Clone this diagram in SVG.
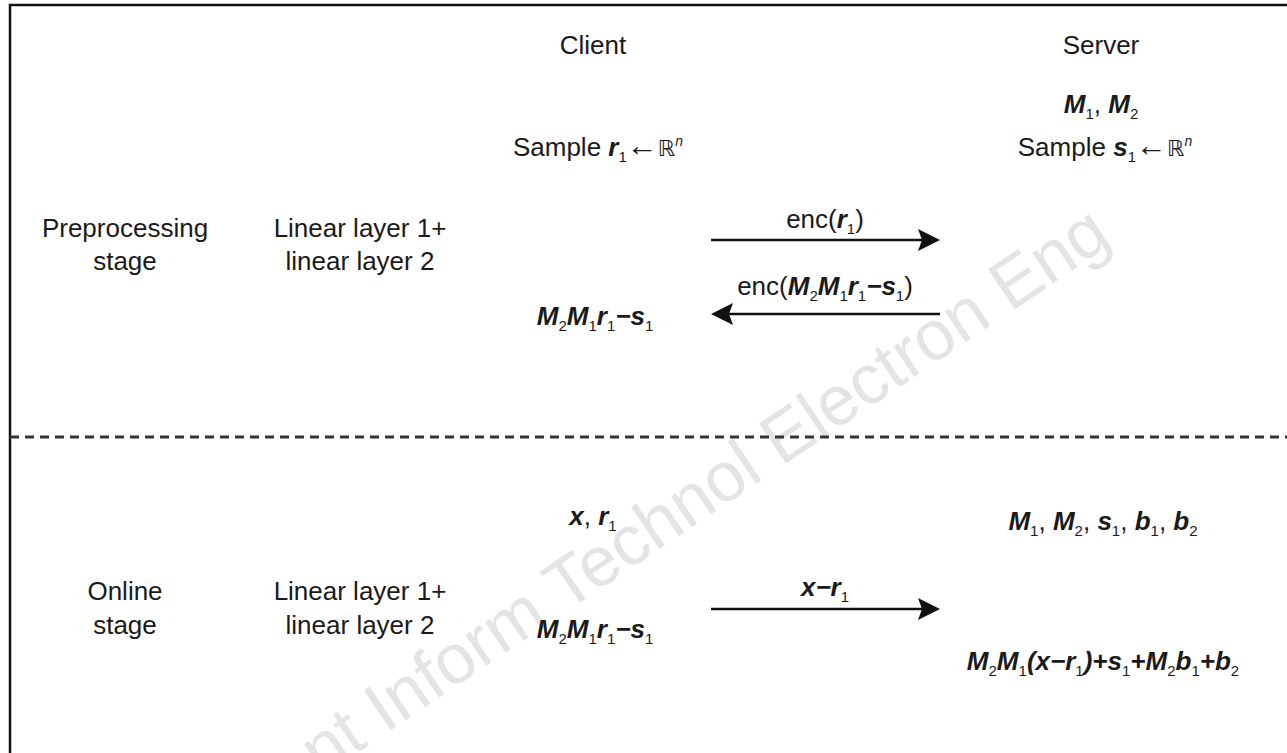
<svg xmlns="http://www.w3.org/2000/svg" width="1287" height="753" viewBox="0 0 1287 753">
  <style>
    text { font-family: "Liberation Sans", Arial, sans-serif; font-size: 26px; fill: #1a1a1a; }
    .c { text-anchor: middle; }
    .v { font-weight: bold; font-style: italic; }
    .s { font-size: 15px; font-weight: normal; font-style: normal; }
    .sup { font-size: 14px; font-style: italic; }
    .la { font-size: 31px; }
    .bb { font-family: "DejaVu Sans", sans-serif; font-size: 22px; }
    .wm { font-size: 70px; fill: #e4e4e4; }
    .conn { stroke: #111; stroke-width: 2.5; fill: none; }
  </style>
  <defs>
    <marker id="arrow" viewBox="0 0 22 22" refX="12" refY="11" markerWidth="22" markerHeight="22" markerUnits="userSpaceOnUse" orient="auto">
      <path d="M0,0 L22,11 L0,22 L4,11 Z" fill="#111"/>
    </marker>
  </defs>

  <rect width="1287" height="753" fill="#fff"/>

  <!-- background watermark -->
  <text class="wm" transform="translate(234,836) rotate(-34)">Front Inform Technol Electron Eng</text>

  <!-- frame and stage divider -->
  <rect x="10" y="5" width="1300" height="780" fill="none" stroke="#111" stroke-width="2.5"/>
  <line x1="10" y1="437" x2="1287" y2="437" stroke="#333" stroke-width="3" stroke-dasharray="9 6"/>

  <!-- column headers -->
  <g id="client-header"><text class="c" x="593" y="54">Client</text></g>
  <g id="server-header"><text class="c" x="1101" y="54">Server</text></g>

  <!-- preprocessing stage -->
  <g id="pre-label">
    <text class="c" x="125" y="237">Preprocessing</text>
    <text class="c" x="125" y="270">stage</text>
  </g>
  <g id="pre-layers">
    <text class="c" x="360" y="237">Linear layer 1+</text>
    <text class="c" x="360" y="270">linear layer 2</text>
  </g>
  <g id="pre-client-sample">
    <text class="c" x="598" y="156">Sample <tspan class="v">r</tspan><tspan class="s" dy="6">1</tspan><tspan class="la" dy="-6">←</tspan><tspan class="bb">ℝ</tspan><tspan class="sup" dy="-10">n</tspan></text>
  </g>
  <g id="pre-server-keys">
    <text class="c" x="1101" y="113"><tspan class="v">M</tspan><tspan class="s" dy="6">1</tspan><tspan dy="-6">, </tspan><tspan class="v">M</tspan><tspan class="s" dy="6">2</tspan></text>
  </g>
  <g id="pre-server-sample">
    <text class="c" x="1105" y="156">Sample <tspan class="v">s</tspan><tspan class="s" dy="6">1</tspan><tspan class="la" dy="-6">←</tspan><tspan class="bb">ℝ</tspan><tspan class="sup" dy="-10">n</tspan></text>
  </g>
  <g id="pre-client-result">
    <text class="c" x="595" y="325"><tspan class="v">M</tspan><tspan class="s" dy="6">2</tspan><tspan class="v" dy="-6">M</tspan><tspan class="s" dy="6">1</tspan><tspan class="v" dy="-6">r</tspan><tspan class="s" dy="6">1</tspan><tspan class="v" dy="-6">−s</tspan><tspan class="s" dy="6">1</tspan></text>
  </g>

  <!-- online stage -->
  <g id="online-label">
    <text class="c" x="125" y="600">Online</text>
    <text class="c" x="125" y="634">stage</text>
  </g>
  <g id="online-layers">
    <text class="c" x="360" y="600">Linear layer 1+</text>
    <text class="c" x="360" y="634">linear layer 2</text>
  </g>
  <g id="online-client-input">
    <text class="c" x="593" y="525"><tspan class="v">x</tspan>, <tspan class="v">r</tspan><tspan class="s" dy="6">1</tspan></text>
  </g>
  <g id="online-client-share">
    <text class="c" x="595" y="638"><tspan class="v">M</tspan><tspan class="s" dy="6">2</tspan><tspan class="v" dy="-6">M</tspan><tspan class="s" dy="6">1</tspan><tspan class="v" dy="-6">r</tspan><tspan class="s" dy="6">1</tspan><tspan class="v" dy="-6">−s</tspan><tspan class="s" dy="6">1</tspan></text>
  </g>
  <g id="online-server-params">
    <text class="c" x="1103" y="530"><tspan class="v">M</tspan><tspan class="s" dy="6">1</tspan><tspan dy="-6">, </tspan><tspan class="v">M</tspan><tspan class="s" dy="6">2</tspan><tspan dy="-6">, </tspan><tspan class="v">s</tspan><tspan class="s" dy="6">1</tspan><tspan dy="-6">, </tspan><tspan class="v">b</tspan><tspan class="s" dy="6">1</tspan><tspan dy="-6">, </tspan><tspan class="v">b</tspan><tspan class="s" dy="6">2</tspan></text>
  </g>
  <g id="online-server-output">
    <text class="c" x="1103" y="670"><tspan class="v">M</tspan><tspan class="s" dy="6">2</tspan><tspan class="v" dy="-6">M</tspan><tspan class="s" dy="6">1</tspan><tspan class="v" dy="-6">(x−r</tspan><tspan class="s" dy="6">1</tspan><tspan class="v" dy="-6">)+s</tspan><tspan class="s" dy="6">1</tspan><tspan class="v" dy="-6">+M</tspan><tspan class="s" dy="6">2</tspan><tspan class="v" dy="-6">b</tspan><tspan class="s" dy="6">1</tspan><tspan class="v" dy="-6">+b</tspan><tspan class="s" dy="6">2</tspan></text>
  </g>

  <!-- messages between client and server -->
  <g id="connectors">
    <line class="conn" x1="711" y1="240" x2="930" y2="240" marker-end="url(#arrow)"/>
    <line class="conn" x1="940" y1="314" x2="721" y2="314" marker-end="url(#arrow)"/>
    <line class="conn" x1="711" y1="609" x2="930" y2="609" marker-end="url(#arrow)"/>
    <text class="c" x="825" y="228">enc(<tspan class="v">r</tspan><tspan class="s" dy="6">1</tspan><tspan dy="-6">)</tspan></text>
    <text class="c" x="825" y="295">enc(<tspan class="v">M</tspan><tspan class="s" dy="6">2</tspan><tspan class="v" dy="-6">M</tspan><tspan class="s" dy="6">1</tspan><tspan class="v" dy="-6">r</tspan><tspan class="s" dy="6">1</tspan><tspan class="v" dy="-6">−s</tspan><tspan class="s" dy="6">1</tspan><tspan dy="-6">)</tspan></text>
    <text class="c" x="825" y="596"><tspan class="v">x−r</tspan><tspan class="s" dy="6">1</tspan></text>
  </g>
</svg>
